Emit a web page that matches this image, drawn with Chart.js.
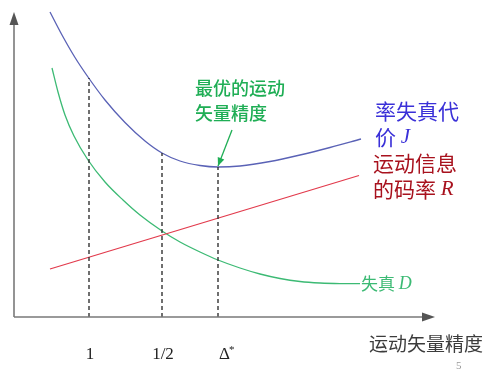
<!DOCTYPE html>
<html>
<head>
<meta charset="utf-8">
<script src="https://cdn.jsdelivr.net/npm/chart.js@4/dist/chart.umd.min.js"></script>
<style>
  html, body { margin: 0; padding: 0; background: #fff; }
  #wrap { width: 489px; height: 376px; }
</style>
</head>
<body>
<div id="wrap"><canvas id="c" width="489" height="376"></canvas></div>
<script>
// 读图得到的数值（横轴：运动矢量精度，纵轴：代价）
const jX = [36, 48, 61, 74, 91, 111, 131, 148, 166, 186, 204, 226, 256, 286, 316, 347];
const jY = [305, 282, 259.5, 240, 217, 194.5, 176, 164, 156, 151.5, 150, 151, 155.5, 162, 169.5, 178];
const dX = [38, 44, 51, 60, 74, 91, 109, 126, 148, 166, 186, 204, 226, 246, 266, 286, 306, 326, 346];
const dY = [249, 225, 202, 181, 157, 135, 117, 102, 86, 75, 65, 57, 49, 43, 38.5, 35.5, 34, 33.4, 33.3];
const rX = [36, 345];
const rY = [48, 141.5];
const tickVals = [75, 148, 204];
const tickLabels = ["1", "1/2", "Δ*"];
const tickTops = [239, 164, 150];

const pts = (xs, ys) => xs.map((x, i) => ({ x, y: ys[i] }));

const curve = (data, color) => ({
  data, borderColor: color, borderWidth: 1.3, pointRadius: 0,
  cubicInterpolationMode: "monotone", fill: false,
});

const dashed = tickVals.map((x, i) => ({
  data: [{ x, y: 0 }, { x, y: tickTops[i] }],
  borderColor: "#333", borderWidth: 1.4, borderDash: [4, 3], pointRadius: 0,
}));

function runs(ctx, x, y, parts) {
  parts.forEach(([text, font, color]) => {
    ctx.font = font;
    ctx.fillStyle = color;
    ctx.fillText(text, x, y);
    x += ctx.measureText(text).width;
  });
}

const CJK = '"Noto Sans CJK SC", sans-serif';
const SERIF = '"Liberation Serif", serif';

const decor = {
  id: "decor",
  afterDraw(chart) {
    const { ctx, chartArea: a, scales: { x, y } } = chart;
    ctx.save();
    // 坐标轴与箭头
    ctx.strokeStyle = "#7a7a7a";
    ctx.fillStyle = "#555";
    ctx.lineWidth = 1.6;
    ctx.beginPath();
    ctx.moveTo(a.left, a.bottom); ctx.lineTo(a.left, a.top + 10);
    ctx.moveTo(a.left, a.bottom); ctx.lineTo(a.right - 8, a.bottom);
    ctx.stroke();
    ctx.beginPath();
    ctx.moveTo(a.left, a.top + 2); ctx.lineTo(a.left - 4.5, a.top + 15); ctx.lineTo(a.left + 4.5, a.top + 15);
    ctx.closePath(); ctx.fill();
    ctx.beginPath();
    ctx.moveTo(a.right, a.bottom); ctx.lineTo(a.right - 13, a.bottom - 4.5); ctx.lineTo(a.right - 13, a.bottom + 4.5);
    ctx.closePath(); ctx.fill();

    // 刻度文字
    ctx.textBaseline = "middle";
    ctx.textAlign = "center";
    ctx.fillStyle = "#222";
    ctx.font = "17px " + SERIF;
    tickVals.forEach((v, i) => {
      const px = x.getPixelForValue(v);
      if (tickLabels[i] === "Δ*") {
        ctx.textAlign = "left";
        ctx.fillText("Δ", px + 1, 355);
        ctx.font = "11px " + SERIF;
        ctx.fillText("*", px + 11, 350);
        ctx.font = "17px " + SERIF;
        ctx.textAlign = "center";
      } else {
        ctx.fillText(tickLabels[i], px + 1, 355);
      }
    });

    ctx.textAlign = "left";
    ctx.font = "19px " + CJK;
    ctx.fillStyle = "#3c3c3c";
    ctx.fillText("运动矢量精度", 369, 344);
    ctx.font = "11px " + SERIF;
    ctx.fillStyle = "#999";
    ctx.fillText("5", 456, 366);

    // 注释文字
    const green = "#1fae55";
    ctx.font = "500 18px " + CJK;
    ctx.fillStyle = green;
    ctx.fillText("最优的运动", 195, 88);
    ctx.fillText("矢量精度", 195, 113);

    const blue = "#3a30d8";
    runs(ctx, 375, 111, [["率失真代", "21px " + CJK, blue]]);
    runs(ctx, 375, 137, [["价 ", "21px " + CJK, blue], ["J", "italic 21px " + SERIF, blue]]);
    const red = "#a8121e";
    runs(ctx, 373, 163, [["运动信息", "21px " + CJK, red]]);
    runs(ctx, 373, 189, [["的码率 ", "21px " + CJK, red], ["R", "italic 21px " + SERIF, red]]);
    runs(ctx, 361, 284, [["失真 ", "17px " + CJK, "#3cba74"], ["D", "italic 18px " + SERIF, "#3cba74"]]);

    // 指向最优点的箭头
    const ex = x.getPixelForValue(204), ey = y.getPixelForValue(150) - 1;
    const sx = 232, sy = 130;
    const ang = Math.atan2(ey - sy, ex - sx);
    ctx.strokeStyle = green;
    ctx.fillStyle = green;
    ctx.lineWidth = 1.3;
    ctx.beginPath(); ctx.moveTo(sx, sy); ctx.lineTo(ex, ey); ctx.stroke();
    ctx.beginPath();
    ctx.moveTo(ex, ey);
    ctx.lineTo(ex - 9 * Math.cos(ang - 0.4), ey - 9 * Math.sin(ang - 0.4));
    ctx.lineTo(ex - 9 * Math.cos(ang + 0.4), ey - 9 * Math.sin(ang + 0.4));
    ctx.closePath(); ctx.fill();
    ctx.restore();
  },
};

new Chart(document.getElementById("c"), {
  type: "line",
  data: {
    datasets: [
      ...dashed,
      curve(pts(rX, rY), "#e23a4c"),
      curve(pts(dX, dY), "#3cba74"),
      curve(pts(jX, jY), "#5a62b6"),
    ],
  },
  options: {
    responsive: false,
    animation: false,
    events: [],
    layout: { padding: { left: 14, top: 10, right: 54, bottom: 59 } },
    plugins: { legend: { display: false }, tooltip: { enabled: false } },
    scales: {
      x: { type: "linear", min: 0, max: 421, display: false },
      y: { type: "linear", min: 0, max: 307, display: false },
    },
  },
  plugins: [decor],
});
</script>
</body>
</html>
